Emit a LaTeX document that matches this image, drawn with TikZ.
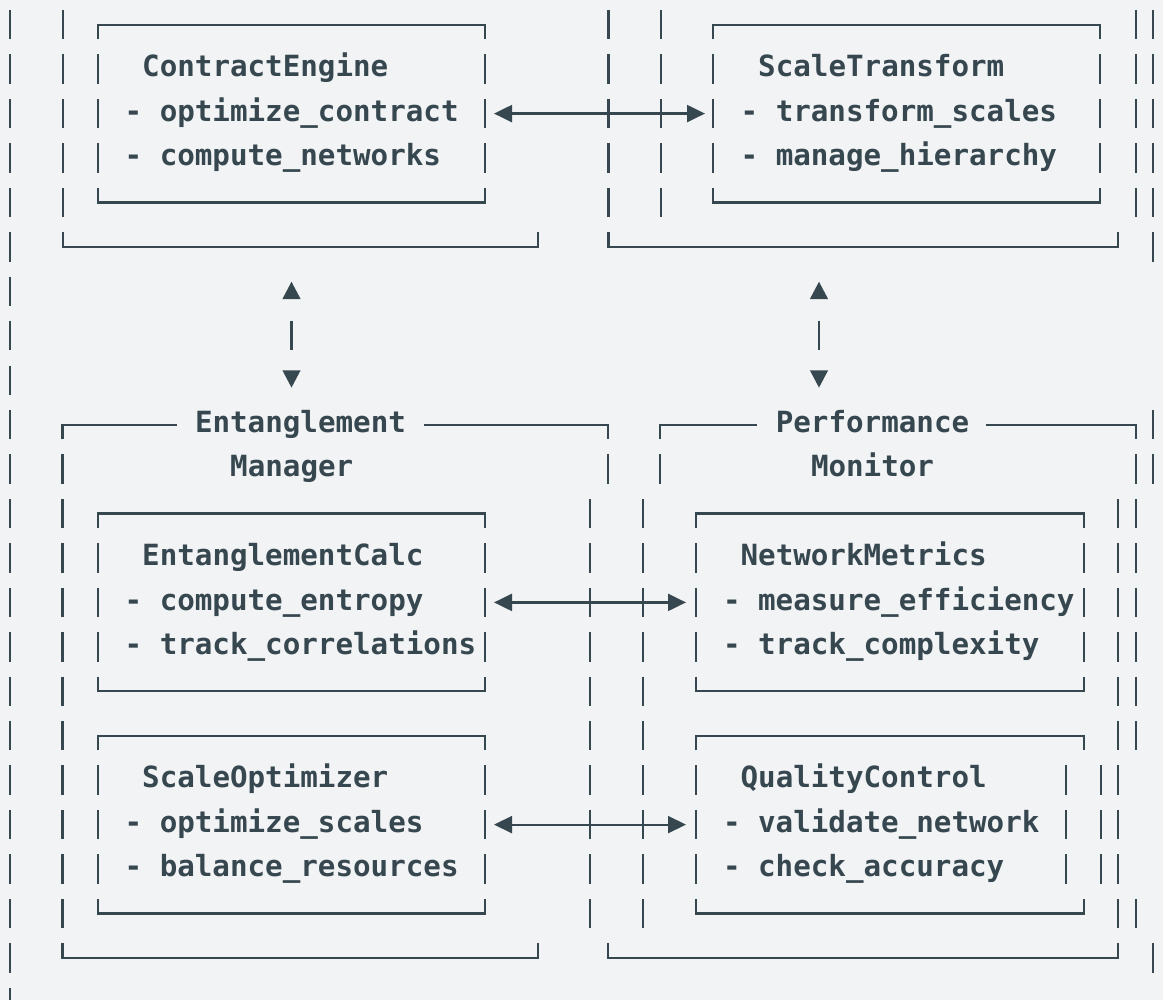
\documentclass[tikz,border=0pt]{standalone}
\usepackage{fontspec}
\newfontfamily\codefont{DejaVu Sans Mono}
\usetikzlibrary{arrows.meta}
\definecolor{ink}{HTML}{37474F}
\definecolor{paper}{HTML}{F1F3F5}
% half of one bar segment, in rows
\newcommand{\halfseg}{0.3308}
% inner box: left x, right x, top row, bottom row
\newcommand{\asciibox}[4]{%
  \draw[rule] (#1,#3+\halfseg) -- (#1,#3) -- (#2,#3) -- (#2,#3+\halfseg);
  \draw[rule] (#1,#4-\halfseg) -- (#1,#4) -- (#2,#4) -- (#2,#4-\halfseg);
  \draw[bars] (#1,#3+1-\halfseg) -- (#1,#4-1+\halfseg);
  \draw[bars] (#2,#3+1-\halfseg) -- (#2,#4-1+\halfseg);
}

\begin{document}
\begin{tikzpicture}[
    x=1pt, y=-44.44pt,
    every node/.style={font=\codefont\bfseries\fontsize{29.2}{35}\selectfont,
      text=ink, inner sep=0pt, anchor=base west},
    rule/.style={ink, line width=2.2pt},
    bars/.style={rule, dash pattern=on 29.4pt off 15.04pt},
    hlink/.style={rule, {Triangle[length=18pt,width=17pt]}-{Triangle[length=18pt,width=17pt]}},
    vlink/.style={rule, {Triangle[length=17.3pt,width=17.6pt]}-{Triangle[length=17.3pt,width=17.6pt]},
      dash pattern=on 29.4pt off 100pt, dash phase=107.3pt}
]
\fill[paper] (0,-0.5558) rectangle (1163,21.9464);
\useasboundingbox (0,-0.5558) rectangle (1163,21.9464);

% ---- rails on the left and right ----
\draw[bars] (10,-\halfseg) -- (10,21.9464);
\draw[bars] (1136,-\halfseg) -- (1136,4+\halfseg);
\draw[bars] (1153.3,-\halfseg) -- (1153.3,5+\halfseg);
\draw[bars] (1153.3,9-\halfseg) -- (1153.3,10+\halfseg);
\draw[bars] (1153.3,21-\halfseg) -- (1153.3,21+\halfseg);

% ---- upper left block ----
\draw[bars] (63,-\halfseg) -- (63,4+\halfseg);
\draw[rule] (63,5-\halfseg) -- (63,5) -- (537.6,5) -- (537.6,5-\halfseg);
\asciibox{98}{484.6}{0}{4}
\node (ce-t) at (142.0,1.173) {ContractEngine};
\node (ce-1) at (124.4,2.173) {- optimize\_contract};
\node (ce-2) at (124.4,3.173) {- compute\_networks};

% ---- upper right block ----
\draw[bars] (608.5,-\halfseg) -- (608.5,4+\halfseg);
\draw[bars] (660.7,-\halfseg) -- (660.7,4+\halfseg);
\draw[rule] (608.5,5-\halfseg) -- (608.5,5) -- (1118.3,5) -- (1118.3,5-\halfseg);
\asciibox{712.7}{1100}{0}{4}
\node (st-t) at (758.0,1.173) {ScaleTransform};
\node (st-1) at (740.4,2.173) {- transform\_scales};
\node (st-2) at (740.4,3.173) {- manage\_hierarchy};

\coordinate (ce-e) at (484.6,2);
\coordinate (st-w) at (712.7,2);
\draw[hlink, shorten <=9.4pt, shorten >=7.7pt] (ce-e) -- (st-w);

% ---- links between the rows ----
\coordinate (upleft-s) at (291.5,5);
\coordinate (em-n) at (291.5,9);
\draw[vlink, shorten <=34.8pt, shorten >=37pt] (upleft-s) -- (em-n);
\coordinate (upright-s) at (819,5);
\coordinate (pm-n) at (819,9);
\draw[vlink, shorten <=34.8pt, shorten >=37pt] (upright-s) -- (pm-n);

% ---- Entanglement Manager ----
\draw[rule] (62.5,9+\halfseg) -- (62.5,9) -- (176.8,9);
\draw[rule] (423.6,9) -- (607.9,9) -- (607.9,9+\halfseg);
\node (em-t) at (194.8,9.173) {Entanglement};
\node (em-b) at (230.0,10.173) {Manager};
\draw[bars] (62.5,10-\halfseg) -- (62.5,20+\halfseg);
\draw[bars] (607.9,10-\halfseg) -- (607.9,10+\halfseg);
\draw[bars] (590,11-\halfseg) -- (590,20+\halfseg);
\draw[rule] (62.5,21-\halfseg) -- (62.5,21) -- (537.6,21) -- (537.6,21-\halfseg);

\asciibox{98}{484.6}{11}{15}
\node (ec-t) at (142.0,12.173) {EntanglementCalc};
\node (ec-1) at (124.4,13.173) {- compute\_entropy};
\node (ec-2) at (124.4,14.173) {- track\_correlations};

\asciibox{98}{484.6}{16}{20}
\node (so-t) at (142.0,17.173) {ScaleOptimizer};
\node (so-1) at (124.4,18.173) {- optimize\_scales};
\node (so-2) at (124.4,19.173) {- balance\_resources};

% ---- Performance Monitor ----
\draw[rule] (660.3,9+\halfseg) -- (660.3,9) -- (757.3,9);
\draw[rule] (986.3,9) -- (1136.3,9) -- (1136.3,9+\halfseg);
\node (pm-t) at (775.6,9.173) {Performance};
\node (pm-b) at (810.8,10.173) {Monitor};
\draw[bars] (660.3,10-\halfseg) -- (660.3,10+\halfseg);
\draw[bars] (643.2,11-\halfseg) -- (643.2,20+\halfseg);
\draw[bars] (1136.3,10-\halfseg) -- (1136.3,16+\halfseg);
\draw[bars] (1136.3,20-\halfseg) -- (1136.3,20+\halfseg);
\draw[bars] (1118.3,11-\halfseg) -- (1118.3,20+\halfseg);
\draw[bars] (1100.7,17-\halfseg) -- (1100.7,19+\halfseg);
\draw[rule] (607.9,21-\halfseg) -- (607.9,21) -- (1118.3,21) -- (1118.3,21-\halfseg);

\asciibox{696}{1083.7}{11}{15}
\node (nm-t) at (740.4,12.173) {NetworkMetrics};
\node (nm-1) at (722.8,13.173) {- measure\_efficiency};
\node (nm-2) at (722.8,14.173) {- track\_complexity};

% QualityControl: right side sits one step in
\draw[rule] (696,16+\halfseg) -- (696,16) -- (1083.7,16) -- (1083.7,16+\halfseg);
\draw[rule] (696,20-\halfseg) -- (696,20) -- (1083.7,20) -- (1083.7,20-\halfseg);
\draw[bars] (696,17-\halfseg) -- (696,19+\halfseg);
\draw[bars] (1065.7,17-\halfseg) -- (1065.7,19+\halfseg);
\node (qc-t) at (740.4,17.173) {QualityControl};
\node (qc-1) at (722.8,18.173) {- validate\_network};
\node (qc-2) at (722.8,19.173) {- check\_accuracy};

% ---- calculator to metrics links ----
\coordinate (ec-e) at (484.6,13);
\coordinate (nm-w) at (696,13);
\draw[hlink, shorten <=9.4pt, shorten >=10pt] (ec-e) -- (nm-w);
\coordinate (so-e) at (484.6,18);
\coordinate (qc-w) at (696,18);
\draw[hlink, shorten <=9.4pt, shorten >=10pt] (so-e) -- (qc-w);
\end{tikzpicture}
\end{document}
